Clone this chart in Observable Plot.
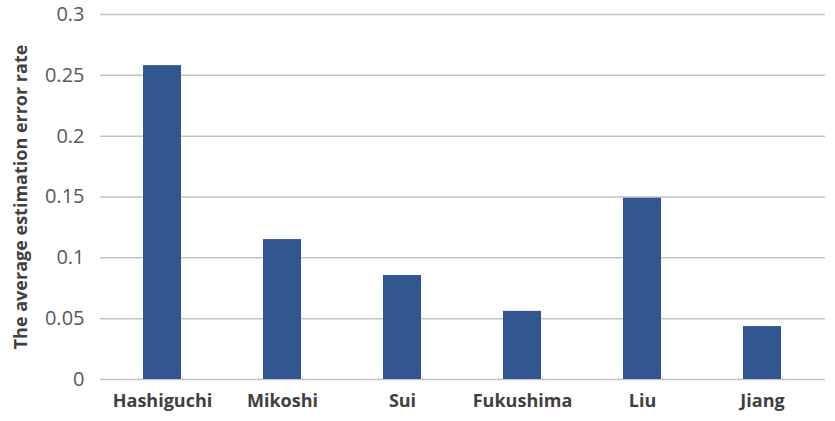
<!DOCTYPE html>
<html>
<head>
<meta charset="utf-8">
<script src="https://cdn.jsdelivr.net/npm/d3@7"></script>
<script src="https://cdn.jsdelivr.net/npm/@observablehq/plot@0.6"></script>
<style>
  html, body { margin: 0; padding: 0; background: #fff; }
  #chart svg { display: block; }
</style>
</head>
<body>
<div id="chart"></div>
<script>
// Average estimation error rate per method
const methods = ["Hashiguchi", "Mikoshi", "Sui", "Fukushima", "Liu", "Jiang"];
const errorRates = [0.258, 0.115, 0.0855, 0.056, 0.149, 0.0435];
const yTicks = [0, 0.05, 0.1, 0.15, 0.2, 0.25, 0.3];
const yTickLabels = ["0", "0.05", "0.1", "0.15", "0.2", "0.25", "0.3"];
const yTitle = "The average estimation error rate";

const rows = methods.map((m, i) => ({method: m, rate: errorRates[i]}));

const chart = Plot.plot({
  width: 835,
  height: 421,
  marginLeft: 100,
  marginRight: 10,
  marginTop: 14,
  marginBottom: 42,
  style: {fontFamily: "'Open Sans', sans-serif", background: "#fff"},
  x: {domain: methods, paddingInner: 0.68, paddingOuter: 0.34, label: null},
  y: {domain: [0, 0.3], label: null},
  marks: [
    Plot.ruleY(yTicks, {stroke: "#c3c3c3", strokeWidth: 1.5}),
    Plot.barY(rows, {x: "method", y: "rate", fill: "#325690"}),
    Plot.axisY({
      ticks: yTicks,
      tickFormat: d => yTickLabels[yTicks.indexOf(d)],
      tickSize: 0,
      tickPadding: 16,
      fontSize: 20,
      fill: "#595959",
      label: null
    }),
    Plot.axisX({
      tickSize: 0,
      tickPadding: 15,
      fontSize: 18,
      fontWeight: "bold",
      fill: "#404040",
      label: null
    }),
    Plot.text([yTitle], {
      frameAnchor: "left",
      textAnchor: "middle",
      dx: -79,
      rotate: -90,
      fontSize: 18,
      fontWeight: "bold",
      fill: "#404040",
      text: d => d
    })
  ]
});

document.getElementById("chart").appendChild(chart);
</script>
</body>
</html>
